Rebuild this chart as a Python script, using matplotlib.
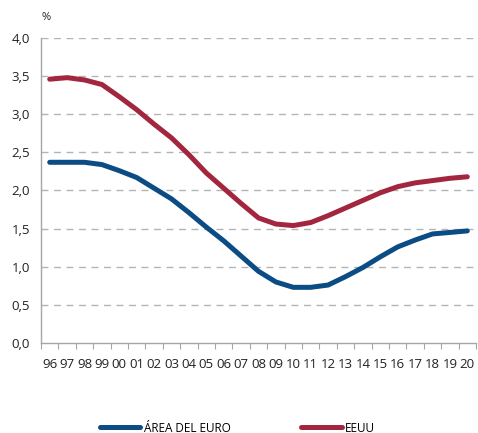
import matplotlib
matplotlib.use("Agg")
import matplotlib.pyplot as plt
import numpy as np

years = ["96", "97", "98", "99", "00", "01", "02", "03", "04", "05", "06", "07",
         "08", "09", "10", "11", "12", "13", "14", "15", "16", "17", "18", "19", "20"]
euro_area = [2.37, 2.37, 2.37, 2.34, 2.26, 2.17, 2.03, 1.89, 1.71, 1.52, 1.34, 1.14,
             0.94, 0.80, 0.73, 0.73, 0.76, 0.87, 0.99, 1.13, 1.26, 1.35, 1.43, 1.45, 1.47]
usa = [3.46, 3.48, 3.45, 3.39, 3.23, 3.06, 2.87, 2.69, 2.47, 2.23, 2.03, 1.83,
       1.64, 1.56, 1.54, 1.58, 1.67, 1.77, 1.87, 1.97, 2.05, 2.10, 2.13, 2.16, 2.18]
y_ticks = [0.0, 0.5, 1.0, 1.5, 2.0, 2.5, 3.0, 3.5, 4.0]

plt.rcParams['font.family'] = ['Open Sans', 'DejaVu Sans']

BLUE = "#0B4C84"
RED = "#A3263F"
GREY = "#A6A6A6"

fig = plt.figure(figsize=(4.78, 4.33), dpi=100)
ax = fig.add_axes([0.0858, 0.2079, 0.910, 0.7043])

x = np.arange(len(years))
ax.plot(x, euro_area, color=BLUE, lw=3.6, solid_capstyle="round",
        solid_joinstyle="round", label="ÁREA DEL EURO")
ax.plot(x, usa, color=RED, lw=3.6, solid_capstyle="round",
        solid_joinstyle="round", label="EEUU")

ax.set_xlim(-0.5, len(years) - 0.5)
ax.set_ylim(0, 4.0)
ax.set_yticks(y_ticks)
ax.set_yticklabels([f"{v:.1f}".replace(".", ",") for v in y_ticks])
ax.set_xticks(x)
ax.set_xticklabels(years)
ax.set_xticks(np.arange(len(years) + 1) - 0.5, minor=True)

ax.tick_params(axis="x", which="major", length=0, pad=11, labelsize=9.5, colors="#222222")
ax.tick_params(axis="x", which="minor", length=4, width=0.8, color=GREY)
ax.tick_params(axis="y", which="major", length=0, pad=8, labelsize=9.5, colors="#222222")

for v in y_ticks[1:]:
    ax.axhline(v, color="#B4B4B4", lw=1.0, ls=(0, (5, 4)), zorder=0)

for side in ["top", "right"]:
    ax.spines[side].set_visible(False)
for side in ["left", "bottom"]:
    ax.spines[side].set_color(GREY)
    ax.spines[side].set_linewidth(1.0)

fig.text(42 / 478, 1 - 17 / 433, "%", fontsize=8, color="#222222",
         ha="left", va="center")

fig.legend(loc="center left", bbox_to_anchor=(100 / 478, 1 - 428 / 433), ncol=2,
           frameon=False, fontsize=8.5, handlelength=3.4, handletextpad=0.3,
           columnspacing=6.0, borderpad=0, borderaxespad=0)

fig.savefig("out.png", dpi=100, facecolor="white")
